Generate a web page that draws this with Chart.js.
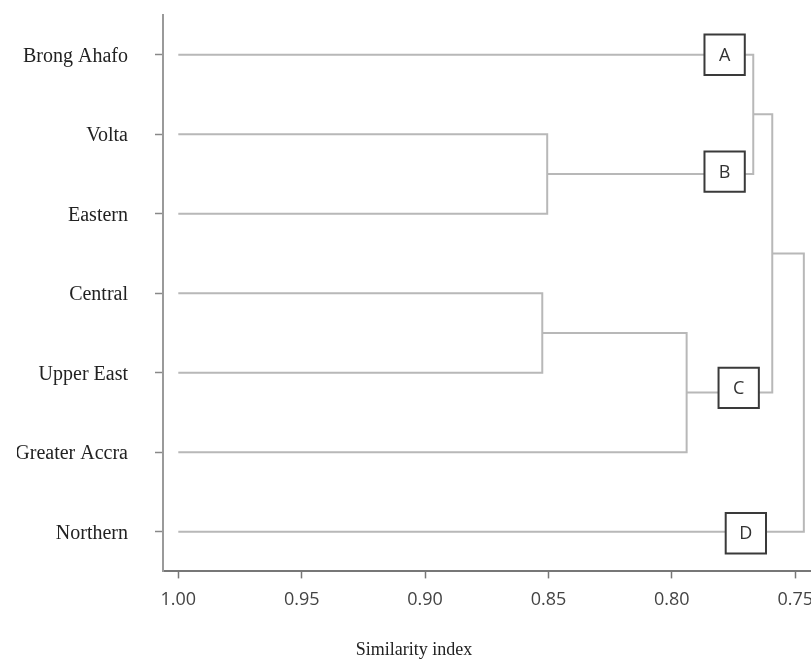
<!DOCTYPE html>
<html>
<head>
<meta charset="utf-8">
<style>
  html, body { margin: 0; padding: 0; background: #fff; }
  #wrap { width: 811px; height: 661px; }
</style>
<script src="https://cdn.jsdelivr.net/npm/chart.js@4/dist/chart.umd.min.js"></script>
</head>
<body>
<div id="wrap"><canvas id="chart"></canvas></div>
<script>
const regions = ['Brong Ahafo', 'Volta', 'Eastern', 'Central', 'Upper East', 'Greater Accra', 'Northern'];
const leafSimilarity = 1.0;

// each merge joins two clusters: a region name or an earlier merge ('m0', 'm1', ...)
const mergeLeft = ['Volta', 'Central', 'm1', 'Brong Ahafo', 'm3', 'm4'];
const mergeRight = ['Eastern', 'Upper East', 'Greater Accra', 'm0', 'm2', 'Northern'];
const mergeSimilarity = [0.8505, 0.8525, 0.794, 0.767, 0.7593, 0.7465];

// labelled cluster boxes
const clusterLabels = ['A', 'B', 'C', 'D'];
const clusterSimilarity = [0.7786, 0.7786, 0.7729, 0.770];
const clusterRow = [0, 1.47, 4.19, 6.02];

const xTicks = [1.00, 0.95, 0.90, 0.85, 0.80, 0.75];

const LINE_COLOR = '#b8b8b8';

// position of a cluster: x = similarity where it formed, y = mean row of its children
const nodes = [];
function nodeOf(name) {
    if (name.startsWith('m')) return nodes[Number(name.slice(1))];
    return { x: leafSimilarity, y: regions.indexOf(name) };
}

const linkSets = mergeSimilarity.map((sim, i) => {
    const a = nodeOf(mergeLeft[i]);
    const b = nodeOf(mergeRight[i]);
    nodes.push({ x: sim, y: (a.y + b.y) / 2 });
    return {
        data: [
            { x: a.x, y: a.y },
            { x: sim, y: a.y },
            { x: sim, y: b.y },
            { x: b.x, y: b.y },
        ],
        showLine: true,
        borderColor: LINE_COLOR,
        borderWidth: 2,
        pointRadius: 0,
        fill: false,
        tension: 0,
    };
});

const boxSet = {
    data: clusterLabels.map((l, i) => ({ x: clusterSimilarity[i], y: clusterRow[i] })),
    showLine: false,
    pointStyle: 'rect',
    pointRadius: 28.5,
    pointBackgroundColor: '#ffffff',
    pointBorderColor: '#3a3a3a',
    pointBorderWidth: 2,
    clip: false,
};

const boxLetters = {
    id: 'boxLetters',
    afterDatasetsDraw(chart) {
        const meta = chart.getDatasetMeta(0);
        const ctx = chart.ctx;
        ctx.save();
        ctx.font = '18px "Open Sans"';
        ctx.fillStyle = '#333';
        ctx.textAlign = 'center';
        ctx.textBaseline = 'middle';
        meta.data.forEach((pt, i) => {
            ctx.fillText(clusterLabels[i], pt.x, pt.y + 1);
        });
        ctx.restore();
    },
};

// the axes keep their own edge padding for end labels; this chart doesn't want it
function noEdgePadding(s) {
    s.paddingTop = 0;
    s.paddingBottom = 0;
    s.paddingLeft = 0;
    s.paddingRight = 0;
}

new Chart(document.getElementById('chart'), {
    type: 'scatter',
    data: { datasets: [boxSet, ...linkSets] },
    plugins: [boxLetters],
    options: {
        responsive: true,
        maintainAspectRatio: false,
        animation: false,
        layout: { autoPadding: false, padding: { left: 17, top: 15, right: 0, bottom: 0 } },
        plugins: {
            legend: { display: false },
            tooltip: { enabled: false },
            title: {
                display: true,
                position: 'bottom',
                text: 'Similarity index',
                color: '#222',
                font: { family: '"Liberation Serif"', size: 18, weight: 'normal' },
                padding: { top: 0, bottom: 0 },
            },
        },
        scales: {
            x: {
                type: 'linear',
                reverse: true,
                min: 0.7436,
                max: 1.0062,
                afterBuildTicks: s => { s.ticks = xTicks.map(v => ({ value: v })); },
                afterFit: s => { s.height = 68; noEdgePadding(s); },
                ticks: {
                    callback: v => v.toFixed(2),
                    color: '#444',
                    font: { family: '"Open Sans"', size: 18 },
                    padding: 11,
                    maxRotation: 0,
                },
                grid: { drawOnChartArea: false, tickLength: 7, tickColor: '#777', tickWidth: 1.5 },
                border: { display: true, color: '#777', width: 2 },
            },
            y: {
                type: 'linear',
                reverse: true,
                min: -0.5,
                max: 6.5,
                afterBuildTicks: s => { s.ticks = regions.map((r, i) => ({ value: i })); },
                afterFit: s => { s.width = 146; noEdgePadding(s); },
                ticks: {
                    callback: v => regions[v],
                    color: '#222',
                    font: { family: '"Liberation Serif"', size: 20 },
                    padding: 27,
                    labelOffset: 2,
                },
                grid: { drawOnChartArea: false, tickLength: 8, tickColor: '#888', tickWidth: 1.5 },
                border: { display: true, color: '#9a9a9a', width: 2 },
            },
        },
    },
});
</script>
</body>
</html>
